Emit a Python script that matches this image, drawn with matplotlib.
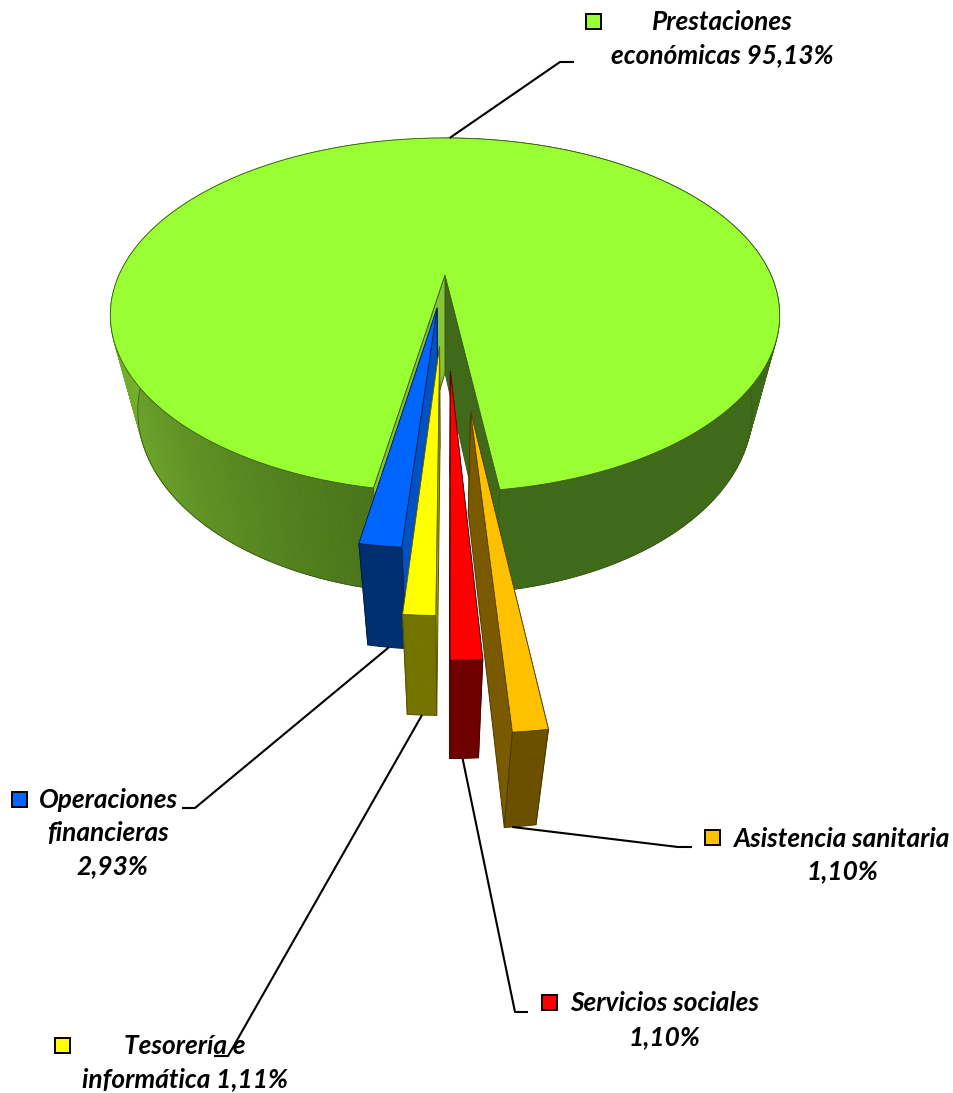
import numpy as np
import matplotlib
matplotlib.use("Agg")
import matplotlib.pyplot as plt
from matplotlib.patches import Polygon, Rectangle

# ---- data (slice order: clockwise from the notch's right edge)
categories = ["Asistencia sanitaria", "Servicios sociales", "Tesorería e informática",
              "Operaciones financieras", "Prestaciones económicas"]
drawn_shares = [1.10, 1.05, 1.11, 1.55, 95.13]   # share of the circle as drawn
explode = [0.69, 0.51, 0.39, 0.19, 0.0]

top_colors = ["#ffc000", "#ff0000", "#ffff00", "#0066ff", "#99ff33"]
front_colors = ["#6b5000", "#6e0000", "#737300", "#00306f", "#3f6a19"]
wall_left = ["#7a5a00", "#7a0000", "#808000", "#00408f", "#86c53a"]
wall_right = ["#7a5a00", "#7a0000", "#a8a800", "#0052c4", "#41691a"]
edge_colors = ["#4d3a00", "#500000", "#555500", "#002050", "#3a5a14"]

# ---- projection of the pie (a perspective view of a unit-radius disc)
CX, CY, A, B, C, H, D = 445.0, 275.0, 326.0, 168.0, 0.226, 106.0, 0.085
START_DEG = 7.5


def project(x, y, z=0.0):
    x, y = np.asarray(x, float), np.asarray(y, float)
    w = 1 - C * y + D * z
    return CX + A * x / w, CY + (B * y + H * z) / w


def rim(px, py, t, z=0.0):
    r = np.radians(t)
    return project(px + np.sin(r), py + np.cos(r), z)


fig = plt.figure(figsize=(9.54, 10.93), dpi=100)
ax = fig.add_axes([0, 0, 1, 1])
ax.set_xlim(0, 954)
ax.set_ylim(1093, 0)
ax.axis("off")


def poly(xs, ys, fc, ec=None, lw=0.7, z=2):
    ax.add_patch(Polygon(np.column_stack([xs, ys]), closed=True, fc=fc,
                         ec=ec if ec else fc, lw=lw, zorder=z, joinstyle="round"))


degs = np.array(drawn_shares) / sum(drawn_shares) * 360
ends = START_DEG - np.cumsum(degs)
starts = np.concatenate([[START_DEG], ends[:-1]])


def draw_main(i):
    t_left, t_right = starts[i], ends[i]
    # the main slice runs from the notch's left edge round through the back of the disc
    ts = np.linspace(t_left, t_right, 420)
    shade_t = np.array([-100, -72, -55, -35, -20, -10])
    shade_r = np.array([0x7c, 0x70, 0x68, 0x5a, 0x50, 0x4a])
    shade_g = np.array([0xbc, 0xaa, 0x9e, 0x8c, 0x7d, 0x74])
    shade_b = np.array([0x2e, 0x2a, 0x28, 0x22, 0x1d, 0x1a])
    for a, b in zip(ts[:-1], ts[1:]):
        m = (a + b) / 2
        while m < -180:
            m += 360
        if m > 0 or m < -120:
            col = "#3f6a19" if m > 0 else "#7cbc2e"
        else:
            col = (np.interp(m, shade_t, shade_r) / 255,
                   np.interp(m, shade_t, shade_g) / 255,
                   np.interp(m, shade_t, shade_b) / 255)
        xa, ya = rim(0, 0, np.array([a, b]))
        xb, yb = rim(0, 0, np.array([b, a]), 1)
        poly(np.r_[xa, xb], np.r_[ya, yb], col, lw=0.6, z=1)
    fx, fy = rim(0, 0, ts, 1)
    vis = (fy > 360)
    ax.plot(fx[vis], fy[vis], color=edge_colors[i], lw=0.6, zorder=1.5)
    ax0, ay0 = project(0, 0)
    ax1, ay1 = project(0, 0, 1)
    # notch walls
    lx, ly = rim(0, 0, t_left)
    lbx, lby = rim(0, 0, t_left, 1)
    rx, ry = rim(0, 0, t_right)
    rbx, rby = rim(0, 0, t_right, 1)
    poly([ax0, rx, rbx, ax1], [ay0, ry, rby, ay1], wall_right[i], edge_colors[i], z=2)
    poly([ax0, lx, lbx, ax1], [ay0, ly, lby, ay1], wall_left[i], edge_colors[i], z=2.1)
    # top face
    tx, ty = rim(0, 0, ts)
    poly(np.r_[ax0, tx], np.r_[ay0, ty], top_colors[i], edge_colors[i], lw=0.6, z=2.2)


def signed(xs, ys):
    return (xs[1] - xs[0]) * (ys[2] - ys[1]) - (ys[1] - ys[0]) * (xs[2] - xs[1])


def draw_slice(i, z):
    e = explode[i]
    mid = np.radians((starts[i] + ends[i]) / 2)
    px, py = e * np.sin(mid), e * np.cos(mid)
    ts = np.linspace(starts[i], ends[i], 12)
    ax0, ay0 = project(px, py)
    ax1, ay1 = project(px, py, 1)
    rx, ry = rim(px, py, ts[0])
    rbx, rby = rim(px, py, ts[0], 1)
    lx, ly = rim(px, py, ts[-1])
    lbx, lby = rim(px, py, ts[-1], 1)
    left = ([ax0, lx, lbx, ax1], [ay0, ly, lby, ay1])
    right = ([ax0, rx, rbx, ax1], [ay0, ry, rby, ay1])
    left_vis = signed(*left) > 0
    right_vis = signed(*right) < 0
    ec = edge_colors[i]
    if not left_vis:
        poly(*left, wall_left[i], ec, z=z)
    if not right_vis:
        poly(*right, wall_right[i], ec, z=z)
    if left_vis:
        poly(*left, wall_left[i], ec, z=z + 0.01)
    if right_vis:
        poly(*right, wall_right[i], ec, z=z + 0.01)
    fx, fy = rim(px, py, ts)
    bx, by = rim(px, py, ts[::-1], 1)
    poly(np.r_[fx, bx], np.r_[fy, by], front_colors[i], ec, z=z + 0.02)
    poly(np.r_[ax0, fx], np.r_[ay0, fy], top_colors[i], ec, lw=0.5, z=z + 0.03)


draw_main(4)
for z, i in zip([3, 4, 5, 6], [3, 2, 1, 0]):
    draw_slice(i, z)


# ---- labels
def bottom_mid(i, frac=0.5):
    e = explode[i]
    mid = np.radians((starts[i] + ends[i]) / 2)
    t = starts[i] + (ends[i] - starts[i]) * frac
    return rim(e * np.sin(mid), e * np.cos(mid), t, 1)


FONT = dict(family="Lato", weight="bold", style="italic", fontsize=18.9,
            ha="center", va="center", color="black", zorder=8)

label_lines = {
    0: [("Asistencia sanitaria", 841, 839), ("1,10%", 842, 871)],
    1: [("Servicios sociales", 665, 1003), ("1,10%", 664, 1037)],
    2: [("Tesorería e", 185, 1046), ("informática 1,11%", 185, 1079)],
    3: [("Operaciones", 109, 800), ("financieras", 108, 833), ("2,93%", 112, 866)],
    4: [("Prestaciones", 722, 22), ("económicas 95,13%", 722, 55)],
}
for lines in label_lines.values():
    for s, x, y in lines:
        ax.text(x, y, s, **FONT)

key_xy = {0: (705, 830), 1: (542, 995), 2: (55, 1038), 3: (12, 792), 4: (586, 14)}
for i, (x, y) in key_xy.items():
    ax.add_patch(Rectangle((x, y), 15, 15, fc=top_colors[i], ec="black", lw=1.4, zorder=8))

# leader lines: slice anchor, then elbow points
top_anchor = rim(0, 0, 179)
leaders = [
    (top_anchor, [(560, 62), (574, 62)]),
    (bottom_mid(3, 0.45), [(195, 808), (182, 808)]),
    (bottom_mid(2, 0.5), [(228, 1056), (214, 1056)]),
    (bottom_mid(1, 0.55), [(515, 1012), (528, 1012)]),
    (bottom_mid(0, 0.75), [(678, 847), (692, 847)]),
]
for (sx, sy), pts in leaders:
    xs = [float(sx)] + [p[0] for p in pts]
    ys = [float(sy)] + [p[1] for p in pts]
    ax.plot(xs, ys, color="black", lw=1.5, zorder=7, solid_capstyle="butt")

fig.savefig("out.png", dpi=100, facecolor="white")
